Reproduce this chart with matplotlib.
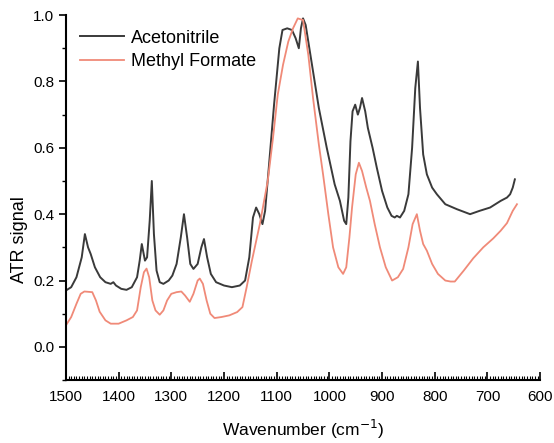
import numpy as np
import matplotlib
matplotlib.use('Agg')
import matplotlib.pyplot as plt
from matplotlib.ticker import MultipleLocator

plt.rcParams['font.family'] = ['Liberation Sans', 'DejaVu Sans']

# Acetonitrile spectrum (wavenumber, ATR signal)
acn_wn = [1500, 1490, 1480, 1470, 1464, 1458, 1453, 1445, 1435, 1425, 1415, 1410,
          1405, 1395, 1385, 1375, 1365, 1360, 1356, 1350, 1346, 1341, 1337, 1333,
          1328, 1322, 1315, 1305, 1298, 1290, 1282, 1276, 1270, 1264, 1258, 1250,
          1243, 1238, 1232, 1225, 1215, 1200, 1185, 1170, 1160, 1152, 1145, 1139,
          1133, 1127, 1122, 1115, 1105, 1095, 1089, 1080, 1071, 1064, 1058, 1054,
          1050, 1045, 1038, 1031, 1020, 1005, 990, 980, 972, 968, 964, 960, 956,
          951, 946, 942, 938, 932, 927, 918, 910, 900, 890, 882, 876, 872, 866,
          858, 850, 843, 837, 832, 828, 822, 815, 805, 796, 780, 758, 733, 715,
          695, 675, 663, 657, 652, 648]
acn_sig = [0.17, 0.18, 0.21, 0.27, 0.34, 0.30, 0.28, 0.24, 0.21, 0.195, 0.19, 0.195,
           0.185, 0.175, 0.172, 0.18, 0.21, 0.26, 0.31, 0.26, 0.27, 0.38, 0.50, 0.34,
           0.23, 0.195, 0.19, 0.20, 0.215, 0.25, 0.33, 0.40, 0.33, 0.25, 0.235, 0.25,
           0.30, 0.325, 0.27, 0.22, 0.195, 0.185, 0.18, 0.185, 0.20, 0.27, 0.39, 0.42,
           0.40, 0.37, 0.41, 0.54, 0.73, 0.90, 0.955, 0.96, 0.955, 0.93, 0.90, 0.96,
           0.99, 0.97, 0.90, 0.83, 0.72, 0.60, 0.49, 0.44, 0.38, 0.37, 0.45, 0.62, 0.71,
           0.73, 0.70, 0.72, 0.75, 0.71, 0.66, 0.60, 0.54, 0.47, 0.42, 0.395, 0.39, 0.395, 0.39,
           0.41, 0.46, 0.60, 0.78, 0.86, 0.72, 0.58, 0.52, 0.48, 0.46, 0.43, 0.415, 0.40, 0.41,
           0.42, 0.44, 0.45, 0.46, 0.48, 0.505]

# Methyl formate spectrum
mf_wn = [1500, 1490, 1480, 1472, 1465, 1450, 1443, 1436, 1425, 1415, 1400, 1385,
         1373, 1365, 1358, 1352, 1347, 1342, 1336, 1330, 1322, 1315, 1308, 1300,
         1290, 1281, 1274, 1265, 1258, 1250, 1246, 1240, 1233, 1226, 1218, 1205,
         1190, 1175, 1165, 1157, 1147, 1132, 1117, 1107, 1098, 1088, 1078, 1069,
         1060, 1050, 1040, 1031, 1020, 1012, 1002, 993, 983, 974, 968, 962, 957,
         950, 944, 938, 930, 923, 914, 904, 893, 881, 870, 860, 850, 842, 834, 828,
         822, 815, 805, 794, 780, 770, 762, 745, 727, 708, 689, 675, 663, 652, 644]
mf_sig = [0.065, 0.09, 0.13, 0.16, 0.167, 0.165, 0.14, 0.106, 0.08, 0.07, 0.07, 0.08,
          0.09, 0.11, 0.18, 0.225, 0.236, 0.21, 0.14, 0.11, 0.097, 0.11, 0.14, 0.16,
          0.165, 0.167, 0.155, 0.136, 0.16, 0.20, 0.206, 0.19, 0.14, 0.10, 0.087, 0.09,
          0.095, 0.105, 0.12, 0.18, 0.26, 0.37, 0.50, 0.63, 0.76, 0.85, 0.92, 0.96,
          0.99, 0.985, 0.88, 0.75, 0.61, 0.52, 0.40, 0.30, 0.24, 0.22, 0.24, 0.33, 0.42,
          0.52, 0.555, 0.53, 0.48, 0.44, 0.37, 0.30, 0.24, 0.20, 0.21, 0.235, 0.30, 0.37,
          0.40, 0.35, 0.31, 0.29, 0.25, 0.22, 0.20, 0.197, 0.197, 0.23, 0.267, 0.30,
          0.327, 0.35, 0.373, 0.41, 0.43]

fig = plt.figure(figsize=(5.54, 4.43), dpi=100)
ax = fig.add_axes([0.119, 0.142, 0.856, 0.824])

ax.plot(acn_wn, acn_sig, '-', color='#3a3a3a', linewidth=1.4, label='Acetonitrile')
ax.plot(mf_wn, mf_sig, '-', color='#f08a78', linewidth=1.3, label='Methyl Formate')

ax.set_xlim(1500, 600)
ax.set_ylim(-0.1, 1.0)

ax.spines['top'].set_visible(False)
ax.spines['right'].set_visible(False)
ax.spines['left'].set_linewidth(1.5)
ax.spines['bottom'].set_linewidth(1.5)

ax.xaxis.set_major_locator(MultipleLocator(100))
ax.xaxis.set_minor_locator(MultipleLocator(5))
ax.yaxis.set_minor_locator(MultipleLocator(0.1))
ax.set_yticks([0.0, 0.2, 0.4, 0.6, 0.8, 1.0])
ax.set_yticklabels(['0.0', '0.2', '0.4', '0.6', '0.8', '1.0'])

ax.tick_params(axis='x', which='major', direction='in', length=6, width=1.2, labelsize=11, pad=7)
ax.tick_params(axis='x', which='minor', direction='in', length=3, width=0.8)
ax.tick_params(axis='y', which='major', direction='out', length=5, width=1.2, labelsize=11)
ax.tick_params(axis='y', which='minor', direction='out', length=3, width=1.0)

ax.set_xlabel('Wavenumber (cm$^{-1}$)', fontsize=12.5, labelpad=10)
ax.set_ylabel('ATR signal', fontsize=13)
ax.yaxis.set_label_coords(-0.08, 0.385)

ax.legend(loc='upper left', bbox_to_anchor=(0.0, 1.0), frameon=False, fontsize=13,
          handlelength=2.4, handletextpad=0.4, labelspacing=0.35, borderaxespad=0.5,
          borderpad=0.3)

fig.savefig('out.png', dpi=100)
